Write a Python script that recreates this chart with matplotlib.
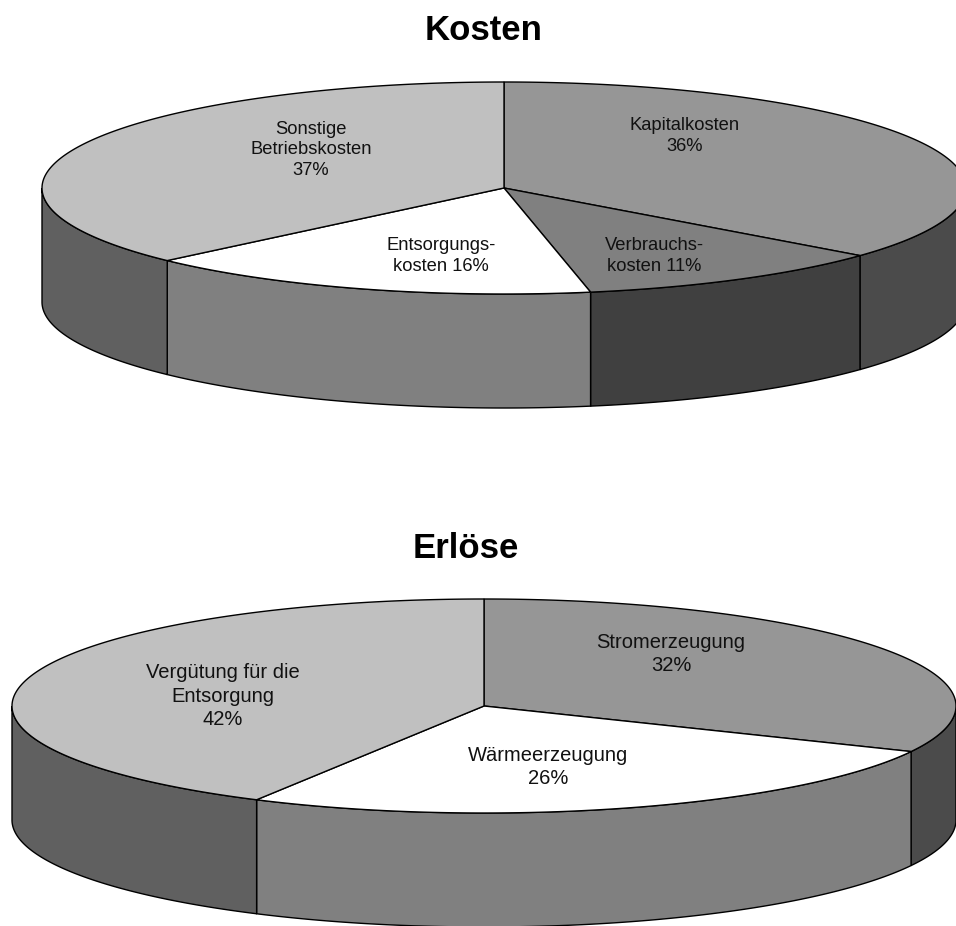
import numpy as np
import matplotlib
matplotlib.use("Agg")
import matplotlib.pyplot as plt
from matplotlib.patches import Polygon

W, H = 956, 926

kosten_labels = ["Kapitalkosten\n36%", "Verbrauchs-\nkosten 11%", "Entsorgungs-\nkosten 16%", "Sonstige\nBetriebskosten\n37%"]
kosten_values = [36, 11, 16, 37]
kosten_top = ["#969696", "#808080", "#ffffff", "#c0c0c0"]
kosten_side = ["#4b4b4b", "#404040", "#808080", "#606060"]
kosten_label_pos = [(685, 136), (654, 256), (441, 256), (311, 150)]

erloese_labels = ["Stromerzeugung\n32%", "Wärmeerzeugung\n26%", "Vergütung für die\nEntsorgung\n42%"]
erloese_values = [32, 26, 42]
erloese_top = ["#969696", "#ffffff", "#c0c0c0"]
erloese_side = ["#4b4b4b", "#808080", "#606060"]
erloese_label_pos = [(671, 654), (548, 767), (223, 696)]


def ring(cx, cy, a, b, t0, t1, n=240):
    """Points on an ellipse, angle measured clockwise from twelve o'clock."""
    t = np.linspace(t0, t1, n)
    return np.column_stack([cx + a * np.sin(t), cy - b * np.cos(t)])


def pie3d(ax, cx, cy, a, b, depth, values, tops, sides, labels, label_pos, fs, spacing):
    edges = 2 * np.pi * np.cumsum([0] + list(values)) / sum(values)
    lw = 1.0
    # outer wall: only the front half of the rim is visible
    for t0, t1, side in zip(edges[:-1], edges[1:], sides):
        lo, hi = max(t0, np.pi / 2), min(t1, 3 * np.pi / 2)
        if lo >= hi:
            continue
        upper = ring(cx, cy, a, b, lo, hi)
        lower = ring(cx, cy + depth, a, b, lo, hi)[::-1]
        ax.add_patch(Polygon(np.vstack([upper, lower]), closed=True, fc=side, ec="black", lw=lw, zorder=2))
    # upper face
    for t0, t1, top in zip(edges[:-1], edges[1:], tops):
        arc = ring(cx, cy, a, b, t0, t1)
        ax.add_patch(Polygon(np.vstack([[cx, cy], arc]), closed=True, fc=top, ec="black", lw=lw, zorder=3))
    for text, (x, y) in zip(labels, label_pos):
        ax.text(x, y, text, ha="center", va="center", fontsize=fs, color="#111111",
                family="Liberation Sans", linespacing=spacing, zorder=4)


fig = plt.figure(figsize=(W / 100, H / 100), dpi=100, facecolor="white")
ax = fig.add_axes([0, 0, 1, 1])
ax.set_xlim(0, W)
ax.set_ylim(H, 0)
ax.axis("off")

pie3d(ax, 504, 188, 462, 106, 114, kosten_values, kosten_top, kosten_side,
      kosten_labels, kosten_label_pos, 13.2, 1.25)
pie3d(ax, 484, 706, 472, 107, 114, erloese_values, erloese_top, erloese_side,
      erloese_labels, erloese_label_pos, 14.5, 1.28)

ax.text(484, 30, "Kosten", ha="center", va="center", fontsize=25, fontweight="bold",
        family="Liberation Sans")
ax.text(466, 549, "Erlöse", ha="center", va="center", fontsize=25, fontweight="bold",
        family="Liberation Sans")

fig.savefig("out.png", dpi=100)
